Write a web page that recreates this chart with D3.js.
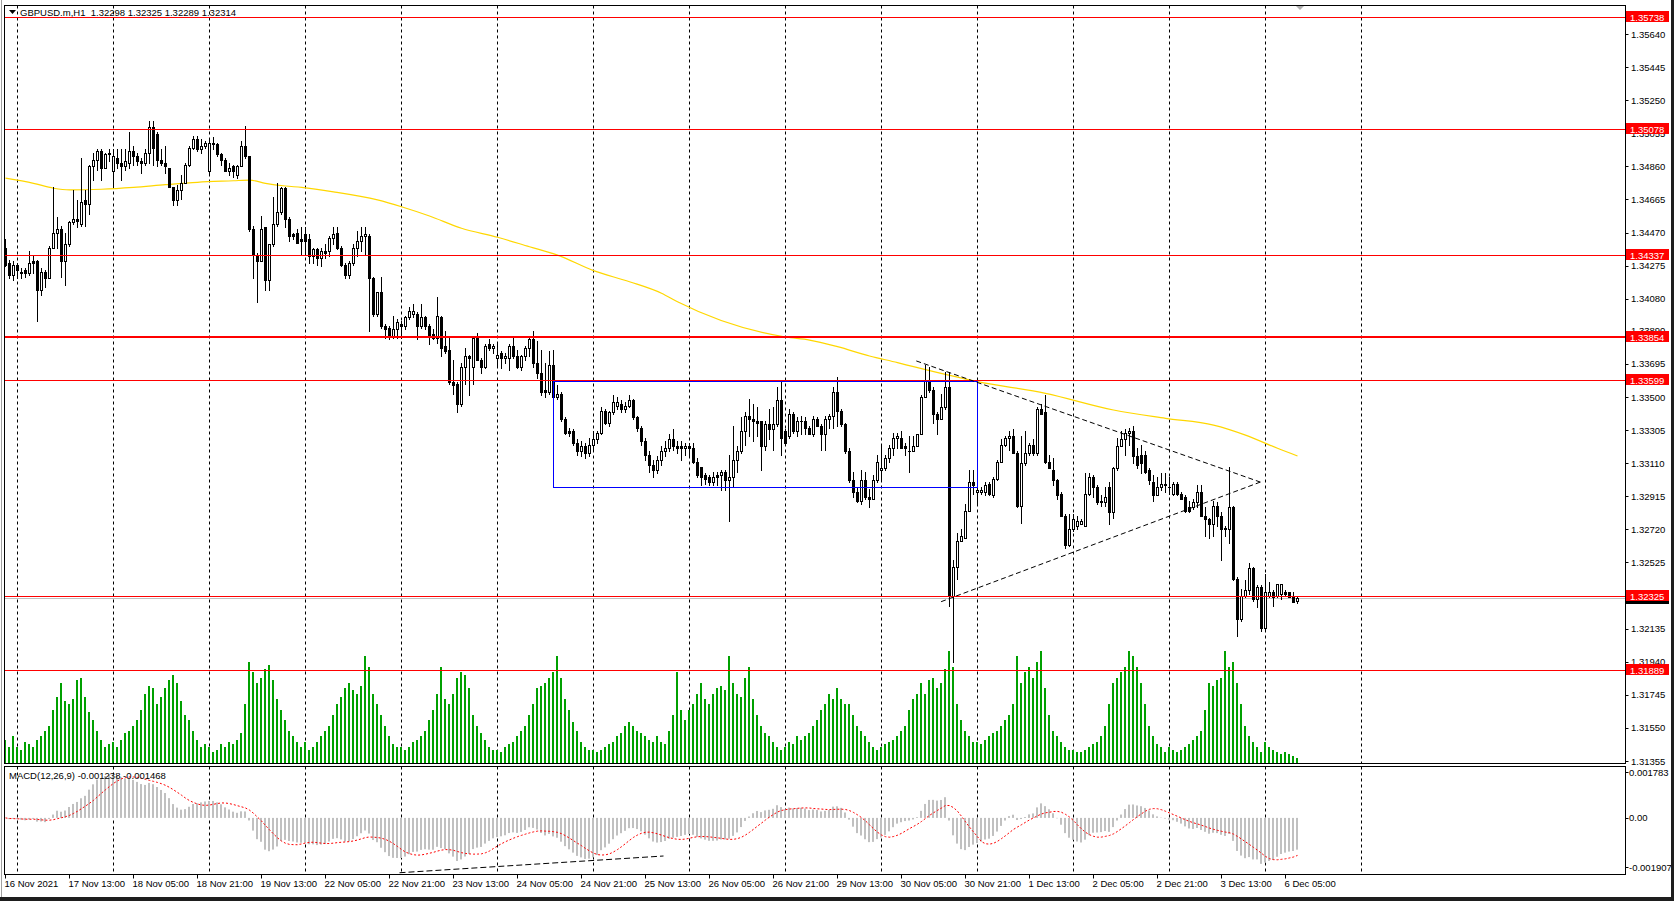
<!DOCTYPE html>
<html><head><meta charset="utf-8">
<script src="https://cdn.jsdelivr.net/npm/d3@7"></script>
<style>
html,body{margin:0;padding:0;background:#fff;overflow:hidden}
svg{display:block}
text{font-family:"Liberation Sans",Arial,sans-serif;font-size:9.5px;fill:#000}
</style></head><body>
<svg id="c" width="1674" height="901"></svg>
<script>
// ---------------- DATA ----------------
const symbolTitle = "GBPUSD.m,H1  1.32298 1.32325 1.32289 1.32314";
const macdTitle = "MACD(12,26,9) -0.001238 -0.001468";

const opens = [
1.3438,1.3429,1.3422,1.3428,1.3423,1.3425,1.3423,1.3430,1.3430,1.3413,
1.3424,1.3420,1.3438,1.3447,1.3449,1.3430,1.3440,1.3453,1.3455,1.3452,
1.3466,1.3464,1.3486,1.3490,1.3495,1.3485,1.3493,1.3483,1.3491,1.3488,
1.3486,1.3488,1.3495,1.3492,1.3489,1.3488,1.3494,1.3509,1.3505,1.3490,
1.3488,1.3485,1.3474,1.3466,1.3472,1.3476,1.3487,1.3497,1.3502,1.3496,
1.3498,1.3483,1.3500,1.3499,1.3493,1.3490,1.3483,1.3486,1.3481,1.3486,
1.3498,1.3492,1.3449,1.3434,1.3430,1.3450,1.3419,1.3440,1.3452,1.3459,
1.3473,1.3455,1.3446,1.3447,1.3443,1.3446,1.3443,1.3433,1.3437,1.3432,
1.3436,1.3436,1.3444,1.3447,1.3438,1.3428,1.3422,1.3429,1.3438,1.3442,
1.3445,1.3445,1.3420,1.3399,1.3412,1.3392,1.3391,1.3386,1.3390,1.3393,
1.3392,1.3397,1.3399,1.3399,1.3392,1.3397,1.3392,1.3387,1.3385,1.3397,
1.3380,1.3378,1.3359,1.3358,1.3346,1.3368,1.3374,1.3368,1.3385,1.3372,
1.3368,1.3381,1.3379,1.3373,1.3376,1.3373,1.3373,1.3380,1.3374,1.3368,
1.3374,1.3379,1.3384,1.3370,1.3364,1.3354,1.3353,1.3369,1.3350,1.3352,
1.3337,1.3330,1.3330,1.3323,1.3318,1.3321,1.3317,1.3322,1.3325,1.3329,
1.3342,1.3335,1.3341,1.3345,1.3346,1.3343,1.3345,1.3348,1.3338,1.3332,
1.3324,1.3316,1.3310,1.3307,1.3313,1.3318,1.3320,1.3325,1.3321,1.3321,
1.3320,1.3321,1.3320,1.3312,1.3309,1.3304,1.3303,1.3300,1.3304,1.3304,
1.3306,1.3301,1.3303,1.3313,1.3318,1.3330,1.3339,1.3337,1.3336,1.3336,
1.3321,1.3334,1.3331,1.3334,1.3348,1.3330,1.3327,1.3340,1.3330,1.3336,
1.3336,1.3332,1.3328,1.3337,1.3333,1.3328,1.3337,1.3339,1.3353,1.3342,
1.3334,1.3318,1.3301,1.3294,1.3289,1.3301,1.3291,1.3290,1.3301,1.3307,
1.3308,1.3314,1.3320,1.3326,1.3326,1.3321,1.3318,1.3318,1.3321,1.3328,
1.3350,1.3360,1.3354,1.3340,1.3337,1.3344,1.3356,1.3233,1.3250,1.3265,
1.3267,1.3283,1.3300,1.3294,1.3294,1.3294,1.3299,1.3292,1.3302,1.3312,
1.3322,1.3326,1.3327,1.3317,1.3286,1.3311,1.3317,1.3322,1.3317,1.3343,
1.3341,1.3312,1.3307,1.3301,1.3293,1.3280,1.3263,1.3272,1.3274,1.3275,
1.3274,1.3293,1.3303,1.3297,1.3289,1.3288,1.3297,1.3282,1.3308,1.3321,
1.3325,1.3329,1.3330,1.3315,1.3316,1.3316,1.3307,1.3300,1.3292,1.3297,
1.3298,1.3297,1.3293,1.3299,1.3293,1.3291,1.3285,1.3285,1.3288,1.3294,
1.3280,1.3278,1.3275,1.3286,1.3280,1.3273,1.3272,1.3285,1.3243,1.3219,
1.3233,1.3236,1.3249,1.3231,1.3238,1.3214,1.3233,1.3235,1.3233,1.3234,
1.3235,1.3235,1.3233,1.32298];

const highs = [
1.3443,1.3431,1.3430,1.3429,1.3426,1.3426,1.3436,1.3434,1.3431,1.3426,
1.3425,1.3439,1.3474,1.3456,1.3451,1.3447,1.3454,1.3472,1.3466,1.3491,
1.3472,1.3487,1.3494,1.3496,1.3496,1.3494,1.3496,1.3496,1.3496,1.3496,
1.3496,1.3506,1.3498,1.3494,1.3491,1.3496,1.3513,1.3513,1.3506,1.3496,
1.3498,1.3485,1.3474,1.3475,1.3481,1.3488,1.3498,1.3504,1.3504,1.3502,
1.3501,1.3502,1.3503,1.3500,1.3494,1.3491,1.3488,1.3487,1.3487,1.3501,
1.3510,1.3492,1.3451,1.3435,1.3457,1.3450,1.3440,1.3468,1.3476,1.3474,
1.3474,1.3456,1.3447,1.3449,1.3450,1.3450,1.3446,1.3438,1.3438,1.3438,
1.3440,1.3445,1.3450,1.3450,1.3439,1.3429,1.3430,1.3440,1.3448,1.3450,
1.3450,1.3446,1.3421,1.3412,1.3421,1.3393,1.3392,1.3398,1.3396,1.3395,
1.3398,1.3403,1.3405,1.3400,1.3405,1.3398,1.3393,1.3390,1.3409,1.3398,
1.3389,1.3385,1.3372,1.3359,1.3370,1.3379,1.3375,1.3386,1.3388,1.3373,
1.3381,1.3384,1.3381,1.3382,1.3377,1.3376,1.3381,1.3385,1.3378,1.3375,
1.3380,1.3385,1.3389,1.3383,1.3378,1.3370,1.3377,1.3378,1.3357,1.3353,
1.3338,1.3332,1.3331,1.3325,1.3324,1.3323,1.3326,1.3330,1.3330,1.3344,
1.3343,1.3342,1.3351,1.3350,1.3348,1.3347,1.3351,1.3349,1.3339,1.3333,
1.3326,1.3318,1.3313,1.3315,1.3321,1.3324,1.3328,1.3331,1.3324,1.3324,
1.3323,1.3323,1.3323,1.3314,1.3309,1.3305,1.3304,1.3306,1.3306,1.3307,
1.3307,1.3316,1.3333,1.3321,1.3338,1.3341,1.3349,1.3346,1.3344,1.3336,
1.3336,1.3343,1.3344,1.3356,1.3359,1.3331,1.3343,1.3341,1.3338,1.3339,
1.3338,1.3333,1.3339,1.3338,1.3334,1.3339,1.3340,1.3356,1.3362,1.3343,
1.3335,1.3320,1.3306,1.3297,1.3307,1.3306,1.3296,1.3304,1.3316,1.3322,
1.3316,1.3322,1.3329,1.3329,1.3330,1.3323,1.3327,1.3327,1.3328,1.3351,
1.3369,1.3368,1.3356,1.3341,1.3352,1.3365,1.3365,1.3254,1.3270,1.3272,
1.3287,1.3307,1.3307,1.3297,1.3297,1.3300,1.3300,1.3303,1.3313,1.3325,
1.3327,1.3330,1.3331,1.3318,1.3327,1.3330,1.3323,1.3325,1.3344,1.3346,
1.3351,1.3316,1.3314,1.3302,1.3294,1.3281,1.3281,1.3281,1.3280,1.3278,
1.3305,1.3305,1.3304,1.3298,1.3292,1.3297,1.3300,1.3309,1.3326,1.3330,
1.3331,1.3332,1.3333,1.3320,1.3322,1.3318,1.3308,1.3304,1.3303,1.3305,
1.3305,1.3303,1.3300,1.3300,1.3294,1.3292,1.3289,1.3290,1.3298,1.3298,
1.3285,1.3279,1.3289,1.3288,1.3282,1.3274,1.3309,1.3286,1.3244,1.3237,
1.3242,1.3252,1.3250,1.3239,1.3239,1.3246,1.3241,1.3236,1.3240,1.3240,
1.3236,1.3235,1.3235,1.32325];

const lows = [
1.3427,1.3420,1.3419,1.3420,1.3420,1.3421,1.3422,1.3423,1.3395,1.3410,
1.3415,1.3420,1.3438,1.3438,1.3421,1.3416,1.3439,1.3452,1.3450,1.3451,
1.3451,1.3458,1.3478,1.3484,1.3478,1.3485,1.3489,1.3474,1.3485,1.3478,
1.3484,1.3485,1.3487,1.3487,1.3482,1.3487,1.3488,1.3487,1.3486,1.3487,
1.3482,1.3474,1.3463,1.3463,1.3467,1.3476,1.3486,1.3496,1.3495,1.3494,
1.3497,1.3482,1.3496,1.3492,1.3487,1.3483,1.3481,1.3480,1.3479,1.3486,
1.3491,1.3448,1.3420,1.3406,1.3430,1.3413,1.3413,1.3439,1.3451,1.3458,
1.3450,1.3442,1.3443,1.3441,1.3434,1.3434,1.3429,1.3429,1.3428,1.3427,
1.3432,1.3433,1.3440,1.3437,1.3427,1.3420,1.3420,1.3428,1.3433,1.3436,
1.3434,1.3389,1.3398,1.3398,1.3391,1.3385,1.3384,1.3385,1.3385,1.3385,
1.3390,1.3396,1.3397,1.3384,1.3391,1.3390,1.3381,1.3384,1.3382,1.3374,
1.3376,1.3358,1.3352,1.3341,1.3345,1.3358,1.3351,1.3358,1.3372,1.3364,
1.3367,1.3378,1.3376,1.3369,1.3367,1.3370,1.3366,1.3373,1.3367,1.3366,
1.3372,1.3374,1.3368,1.3361,1.3351,1.3350,1.3352,1.3350,1.3349,1.3336,
1.3328,1.3327,1.3322,1.3316,1.3315,1.3314,1.3315,1.3319,1.3323,1.3328,
1.3334,1.3333,1.3340,1.3343,1.3341,1.3341,1.3344,1.3337,1.3330,1.3322,
1.3313,1.3306,1.3303,1.3305,1.3310,1.3315,1.3318,1.3319,1.3317,1.3313,
1.3316,1.3315,1.3311,1.3303,1.3298,1.3299,1.3298,1.3298,1.3298,1.3295,
1.3295,1.3277,1.3297,1.3306,1.3317,1.3322,1.3327,1.3324,1.3327,1.3307,
1.3319,1.3325,1.3319,1.3333,1.3316,1.3322,1.3326,1.3329,1.3327,1.3328,
1.3328,1.3328,1.3327,1.3333,1.3319,1.3319,1.3332,1.3332,1.3333,1.3333,
1.3317,1.3300,1.3291,1.3288,1.3287,1.3290,1.3285,1.3290,1.3300,1.3301,
1.3307,1.3312,1.3316,1.3320,1.3320,1.3316,1.3306,1.3318,1.3321,1.3328,
1.3350,1.3353,1.3335,1.3328,1.3337,1.3343,1.3227,1.3194,1.3243,1.3265,
1.3267,1.3283,1.3293,1.3287,1.3293,1.3292,1.3292,1.3291,1.3301,1.3312,
1.3321,1.3319,1.3317,1.3285,1.3276,1.3310,1.3316,1.3316,1.3316,1.3340,
1.3311,1.3308,1.3298,1.3290,1.3280,1.3261,1.3262,1.3271,1.3272,1.3275,
1.3274,1.3292,1.3291,1.3287,1.3286,1.3286,1.3275,1.3279,1.3307,1.3321,
1.3316,1.3322,1.3311,1.3308,1.3305,1.3305,1.3299,1.3289,1.3292,1.3295,
1.3294,1.3293,1.3292,1.3292,1.3290,1.3282,1.3282,1.3284,1.3285,1.3280,
1.3268,1.3267,1.3268,1.3274,1.3254,1.3268,1.3264,1.3242,1.3209,1.3218,
1.3232,1.3234,1.3230,1.3226,1.3212,1.3212,1.3232,1.3227,1.3232,1.3231,
1.3233,1.3232,1.3229,1.32289];

const closes = [
1.3428,1.3422,1.3428,1.3425,1.3424,1.3423,1.3429,1.3429,1.3413,1.3424,
1.3420,1.3438,1.3447,1.3449,1.3430,1.3440,1.3453,1.3455,1.3454,1.3465,
1.3464,1.3486,1.3490,1.3495,1.3485,1.3493,1.3494,1.3492,1.3488,1.3486,
1.3489,1.3495,1.3492,1.3489,1.3488,1.3494,1.3509,1.3497,1.3490,1.3488,
1.3486,1.3474,1.3466,1.3472,1.3476,1.3487,1.3497,1.3502,1.3496,1.3498,
1.3500,1.3500,1.3499,1.3493,1.3490,1.3483,1.3485,1.3483,1.3486,1.3498,
1.3492,1.3449,1.3434,1.3430,1.3449,1.3419,1.3440,1.3452,1.3459,1.3473,
1.3455,1.3445,1.3445,1.3441,1.3442,1.3442,1.3433,1.3437,1.3432,1.3436,
1.3435,1.3444,1.3446,1.3438,1.3428,1.3422,1.3429,1.3438,1.3442,1.3445,
1.3446,1.3420,1.3399,1.3412,1.3392,1.3390,1.3386,1.3390,1.3394,1.3392,
1.3397,1.3401,1.3401,1.3392,1.3397,1.3392,1.3386,1.3385,1.3398,1.3379,
1.3377,1.3359,1.3357,1.3346,1.3368,1.3374,1.3373,1.3385,1.3372,1.3368,
1.3380,1.3379,1.3380,1.3375,1.3373,1.3374,1.3380,1.3374,1.3368,1.3374,
1.3379,1.3384,1.3370,1.3364,1.3353,1.3353,1.3369,1.3350,1.3352,1.3337,
1.3329,1.3329,1.3323,1.3318,1.3321,1.3317,1.3322,1.3325,1.3329,1.3342,
1.3335,1.3341,1.3347,1.3347,1.3343,1.3345,1.3348,1.3338,1.3332,1.3324,
1.3316,1.3310,1.3307,1.3313,1.3318,1.3320,1.3325,1.3321,1.3320,1.3320,
1.3321,1.3320,1.3312,1.3304,1.3303,1.3302,1.3300,1.3303,1.3303,1.3306,
1.3301,1.3303,1.3313,1.3318,1.3330,1.3339,1.3337,1.3336,1.3335,1.3321,
1.3334,1.3331,1.3334,1.3348,1.3326,1.3323,1.3340,1.3330,1.3336,1.3336,
1.3332,1.3328,1.3337,1.3333,1.3328,1.3337,1.3339,1.3353,1.3342,1.3334,
1.3318,1.3301,1.3294,1.3289,1.3301,1.3291,1.3290,1.3301,1.3312,1.3308,
1.3314,1.3320,1.3326,1.3327,1.3320,1.3320,1.3318,1.3321,1.3328,1.3350,
1.3360,1.3354,1.3340,1.3337,1.3344,1.3356,1.3233,1.3250,1.3265,1.3268,
1.3283,1.3300,1.3298,1.3295,1.3295,1.3298,1.3293,1.3302,1.3312,1.3322,
1.3326,1.3327,1.3317,1.3286,1.3311,1.3317,1.3322,1.3317,1.3343,1.3340,
1.3312,1.3308,1.3301,1.3292,1.3280,1.3263,1.3272,1.3278,1.3277,1.3277,
1.3293,1.3303,1.3297,1.3288,1.3288,1.3291,1.3282,1.3308,1.3321,1.3325,
1.3329,1.3330,1.3315,1.3310,1.3311,1.3306,1.3301,1.3292,1.3297,1.3299,
1.3299,1.3297,1.3299,1.3293,1.3290,1.3283,1.3283,1.3288,1.3294,1.3280,
1.3278,1.3275,1.3286,1.3280,1.3272,1.3272,1.3285,1.3243,1.3219,1.3233,
1.3236,1.3249,1.3231,1.3238,1.3214,1.3235,1.3235,1.3232,1.3240,1.3240,
1.3234,1.3232,1.3229,1.32314];

// tick volume (relative units, tallest bar = ~100)
const volumes = [
22,15,25,
15,12,20,18,15,22,25,30,35,50,62,75,58,55,60,78,80,62,48,40,30,22,15,18,
20,15,22,28,30,35,40,50,65,72,70,55,62,70,78,82,75,58,45,40,30,22,15,18,
15,10,12,18,15,20,18,22,28,55,95,85,75,80,88,92,78,60,50,40,30,25,20,15,
20,12,15,20,25,30,35,45,55,62,70,75,68,65,72,100,90,65,55,45,35,25,18,15,
15,12,15,20,22,25,30,40,50,65,90,60,55,65,80,85,82,70,45,35,28,22,15,12,
12,10,15,18,20,25,30,35,45,55,70,72,75,80,85,100,80,60,50,38,30,20,15,12,
12,10,12,15,18,20,25,28,35,38,35,30,28,25,22,20,25,20,18,30,45,85,50,40,
50,55,65,75,60,55,65,70,72,68,100,75,65,62,80,90,60,45,35,28,25,20,15,12,
15,20,18,25,22,25,28,35,40,50,55,65,60,70,60,55,55,45,35,30,25,20,15,12,
15,18,20,22,25,30,35,50,60,65,75,65,78,80,70,75,88,105,90,55,40,30,25,20,
20,18,22,25,28,30,35,40,45,55,100,75,85,90,80,95,105,70,45,30,25,20,15,12,
12,10,10,12,15,18,20,25,35,55,75,80,85,90,105,100,90,75,55,35,25,18,15,10,
15,12,10,12,15,18,22,25,30,50,75,72,78,80,105,90,95,75,55,35,25,20,15,10,
20,15,12,10,8,10,8,7,5];

// yellow moving average, read at these bars
const maBars   = [0,7,12,16,24,32,40,48,57,61,65,70,74,82,93,99,106,114,123,131,138,147,156,164,168,195,201,208,216,223,227,243,260,277,290,302,310,318,323];
const maValues = [1.34790,1.34760,1.34731,1.34721,1.34725,1.34736,1.34752,1.34766,1.34775,1.34779,1.34760,1.34744,1.34736,1.34710,1.34662,1.34622,1.34567,1.34495,1.34442,1.34386,1.34337,1.34245,1.34180,1.34112,1.34062,1.33854,1.33836,1.33797,1.33742,1.33703,1.33679,1.33591,1.33522,1.33424,1.33375,1.33335,1.33276,1.33198,1.33153];

const timeLabels = ["16 Nov 2021","17 Nov 13:00","18 Nov 05:00","18 Nov 21:00","19 Nov 13:00","22 Nov 05:00","22 Nov 21:00","23 Nov 13:00","24 Nov 05:00","24 Nov 21:00","25 Nov 13:00","26 Nov 05:00","26 Nov 21:00","29 Nov 13:00","30 Nov 05:00","30 Nov 21:00","1 Dec 13:00","2 Dec 05:00","2 Dec 21:00","3 Dec 13:00","6 Dec 05:00"];
const dayStartBars = [3,27,51,75,99,123,147,171,195,219,243,267,291,315,339];

const priceTicks = [1.35640,1.35445,1.35250,1.35055,1.34860,1.34665,1.34470,1.34275,1.34080,1.33890,1.33695,1.33500,1.33305,1.33110,1.32915,1.32720,1.32525,1.32330,1.32135,1.31940,1.31745,1.31550,1.31355];
const levelPrices = [1.35738,1.35078,1.34337,1.33854,1.33599,1.32325,1.31889];
const bidPrice = 1.32314;
const macdTicks = [0.001783,0,-0.001907];
const macdTickLabels = ["0.001783","0.00","-0.001907"];

// drawn objects: [bar, price]
const boxCorners = [[136.8,1.33596],[242.8,1.32970]];
const triUpper = [[227.7,1.33713],[313.7,1.32999]];
const triLower = [[233.9,1.32294],[313.7,1.32999]];
const macdDivergence = [[98.5,-0.00213],[164.5,-0.00148]];

// ---------------- DRAWING ----------------
const svg = d3.select('#c');
const L = 4.5, R = 1625.5, mT = 5.5, mB = 763.5, dT = 766.5, dB = 874.5;
const n = closes.length;
const x = d3.scaleLinear().domain([0, n-1]).range([5.5, 5.5 + 4*(n-1)]);
const y = d3.scaleLinear().domain([1.31355, 1.35640]).range([761, 34]);
const yv = d3.scaleLinear().domain([0, 100]).range([763, 656.2]);
const ym = d3.scaleLinear().domain([-0.001907, 0.001783]).range([867, 772]);
const r5 = v => Math.round(v) + 0.5;

const defs = svg.append('defs');
defs.append('clipPath').attr('id','cm').append('rect').attr('x',L).attr('y',mT).attr('width',R-L).attr('height',mB-mT);
defs.append('clipPath').attr('id','cd').append('rect').attr('x',L).attr('y',dT).attr('width',R-L).attr('height',dB-dT);

svg.append('rect').attr('width',1674).attr('height',901).attr('fill','#fff');

const gMain = svg.append('g').attr('clip-path','url(#cm)');
const gMacd = svg.append('g').attr('clip-path','url(#cd)');

// vertical grid (day starts)
[gMain, gMacd].forEach((g, k) => {
  g.selectAll('line.grid').data(dayStartBars).join('line').attr('class','grid')
    .attr('x1', d => x(d)).attr('x2', d => x(d))
    .attr('y1', k ? dT : mT).attr('y2', k ? dB : mB)
    .attr('stroke', '#000').attr('stroke-width', 1).attr('stroke-dasharray', '3,3');
});

// volumes
const bars = d3.range(n);
gMain.selectAll('rect.vol').data(bars).join('rect').attr('class','vol')
  .attr('x', i => x(i) - 1.5).attr('width', 2)
  .attr('y', i => Math.round(yv(volumes[i]))).attr('height', i => 763 - Math.round(yv(volumes[i])))
  .attr('fill', '#00a000');

// bid line
gMain.append('line').attr('x1',L).attr('x2',R).attr('y1',r5(y(bidPrice))).attr('y2',r5(y(bidPrice)))
  .attr('stroke','#c0c0c0');

// moving average
const maPts = maBars.map((b, k) => [b, maValues[k]]);
gMain.append('path').datum(maPts)
  .attr('d', d3.line().x(d => x(d[0])).y(d => y(d[1])).curve(d3.curveMonotoneX))
  .attr('fill','none').attr('stroke','#ffd700').attr('stroke-width',1.2);

// candles
const gC = gMain.append('g');
gC.selectAll('line.wick').data(bars).join('line').attr('class','wick')
  .attr('x1', i => x(i)).attr('x2', i => x(i))
  .attr('y1', i => Math.round(y(highs[i]))).attr('y2', i => Math.round(y(lows[i])) + 1)
  .attr('stroke', '#000');
bars.forEach(i => {
  const yo = Math.round(y(opens[i])), yc = Math.round(y(closes[i]));
  if (closes[i] >= opens[i]) {
    if (yo - yc < 1) {
      gC.append('rect').attr('x', x(i) - 1.5).attr('y', yc).attr('width', 3).attr('height', 1).attr('fill', '#000');
    } else {
      gC.append('rect').attr('x', x(i) - 1).attr('y', yc + 0.5).attr('width', 2).attr('height', yo - yc)
        .attr('fill', '#fff').attr('stroke', '#000');
    }
  } else {
    gC.append('rect').attr('x', x(i) - 1.5).attr('y', yo).attr('width', 3).attr('height', Math.max(1, yc - yo + 1))
      .attr('fill', '#000');
  }
});

// red horizontal levels
const levelWidth = p => (p === 1.33854 ? 2 : 1);
gMain.selectAll('line.lvl').data(levelPrices).join('line').attr('class','lvl')
  .attr('x1', L).attr('x2', R)
  .attr('y1', p => levelWidth(p) === 2 ? Math.round(y(p)) : r5(y(p)))
  .attr('y2', p => levelWidth(p) === 2 ? Math.round(y(p)) : r5(y(p)))
  .attr('stroke', '#ff0000').attr('stroke-width', p => levelWidth(p));

// blue box
gMain.append('rect')
  .attr('x', r5(x(boxCorners[0][0]))).attr('y', r5(y(boxCorners[0][1])))
  .attr('width', Math.round(x(boxCorners[1][0]) - x(boxCorners[0][0])))
  .attr('height', Math.round(y(boxCorners[1][1]) - y(boxCorners[0][1])))
  .attr('fill','none').attr('stroke','#0000ff');

// triangle trend lines
[triUpper, triLower].forEach(seg => {
  gMain.append('line')
    .attr('x1', x(seg[0][0])).attr('y1', y(seg[0][1]))
    .attr('x2', x(seg[1][0])).attr('y2', y(seg[1][1]))
    .attr('stroke','#000').attr('stroke-dasharray','5,3');
});

// chart shift marker
svg.append('path').attr('d','M1296,6 L1304,6 L1300,10 Z').attr('fill','#b0b0b0');

// MACD computed from the close series (EMA12 - EMA26, signal = SMA9)
const macd = [], signal = [];
let e12 = closes[0], e26 = closes[0];
closes.forEach((c, i) => {
  e12 += (2/13) * (c - e12);
  e26 += (2/27) * (c - e26);
  macd.push(e12 - e26);
  const s = macd.slice(Math.max(0, i - 8));
  signal.push(d3.mean(s));
});
gMacd.selectAll('rect.h').data(bars).join('rect').attr('class','h')
  .attr('x', i => x(i) - 1.5).attr('width', 2)
  .attr('y', i => Math.min(ym(0), ym(macd[i])))
  .attr('height', i => Math.abs(ym(macd[i]) - ym(0)))
  .attr('fill', '#c0c0c0');
gMacd.append('path').datum(bars)
  .attr('d', d3.line().x(i => x(i)).y(i => ym(signal[i])))
  .attr('fill','none').attr('stroke','#ff0000').attr('stroke-dasharray','2,2');
gMacd.append('line')
  .attr('x1', x(macdDivergence[0][0])).attr('y1', ym(macdDivergence[0][1]))
  .attr('x2', x(macdDivergence[1][0])).attr('y2', ym(macdDivergence[1][1]))
  .attr('stroke','#000').attr('stroke-dasharray','6,3');

// frames
svg.append('rect').attr('x',L).attr('y',mT).attr('width',R-L).attr('height',mB-mT).attr('fill','none').attr('stroke','#000');
svg.append('rect').attr('x',L).attr('y',dT).attr('width',R-L).attr('height',dB-dT).attr('fill','none').attr('stroke','#000');
svg.append('line').attr('x1',1.5).attr('x2',1.5).attr('y1',0).attr('y2',897).attr('stroke','#a0a0a0');

// price axis
const gA = svg.append('g');
gA.selectAll('line.pt').data(priceTicks).join('line').attr('class','pt')
  .attr('x1', R).attr('x2', R + 3).attr('y1', p => r5(y(p))).attr('y2', p => r5(y(p))).attr('stroke','#000');
gA.selectAll('text.pt').data(priceTicks).join('text').attr('class','pt')
  .attr('x', 1631).attr('y', p => y(p) + 3.5).text(p => p.toFixed(5));
// MACD axis
gA.selectAll('line.mt').data(macdTicks).join('line').attr('class','mt')
  .attr('x1', R).attr('x2', R + 3).attr('y1', v => r5(ym(v))).attr('y2', v => r5(ym(v))).attr('stroke','#000');
gA.selectAll('text.mt').data(macdTicks).join('text').attr('class','mt')
  .attr('x', 1629).attr('y', v => ym(v) + 3.5).text((v, k) => macdTickLabels[k]);

// bid label (black) under level labels
gA.append('rect').attr('x',1626).attr('y',Math.round(y(bidPrice))-5).attr('width',43).attr('height',11).attr('fill','#000');
// red level labels
gA.selectAll('rect.lv').data(levelPrices).join('rect').attr('class','lv')
  .attr('x', 1626).attr('y', p => Math.round(y(p)) - 6).attr('width', 43).attr('height', 11).attr('fill', '#ff0000');
gA.selectAll('text.lv').data(levelPrices).join('text').attr('class','lv')
  .attr('x', 1630).attr('y', p => Math.round(y(p)) + 3.5).style('fill','#fff').text(p => p.toFixed(5));

// time axis
const labelBars = timeLabels.map((t, k) => k * 16);
gA.selectAll('line.tt').data(labelBars).join('line').attr('class','tt')
  .attr('x1', b => x(b)).attr('x2', b => x(b)).attr('y1', dB).attr('y2', dB + 4).attr('stroke','#000');
gA.selectAll('text.tt').data(labelBars).join('text').attr('class','tt')
  .attr('x', b => x(b) - 1).attr('y', 887).text((b, k) => timeLabels[k]);

// titles
svg.append('path').attr('d','M9,10 L16,10 L12.5,14 Z').attr('fill','#000');
svg.append('text').attr('x',20).attr('y',16).style('white-space','pre').text(symbolTitle);
svg.append('text').attr('x',9).attr('y',778.5).text(macdTitle);

// window borders
svg.append('rect').attr('x',0).attr('y',897).attr('width',1674).attr('height',4).attr('fill','#1e1e1e');
svg.append('rect').attr('x',1671).attr('y',0).attr('width',3).attr('height',901).attr('fill','#1e1e1e');
</script>
</body></html>
